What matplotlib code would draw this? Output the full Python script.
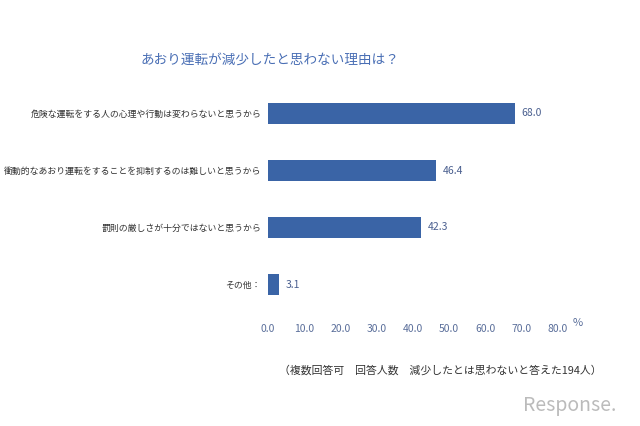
import matplotlib
matplotlib.use("Agg")
import matplotlib.pyplot as plt

plt.rcParams["font.family"] = "Noto Sans CJK JP"

categories = ["危険な運転をする人の心理や行動は変わらないと思うから",
              "衝動的なあおり運転をすることを抑制するのは難しいと思うから",
              "罰則の厳しさが十分ではないと思うから",
              "その他："]
values = [68.0, 46.4, 42.3, 3.1]
ticks = [0, 10, 20, 30, 40, 50, 60, 70, 80]

fig = plt.figure(figsize=(6.4, 4.26), dpi=100)
ax = fig.add_axes([268/640, 1-313/426, 290/640, 228/426])
pos = list(range(len(values)-1, -1, -1))
ax.barh(pos, values, height=0.36, color="#3A64A6")
for p, v in zip(pos, values):
    ax.text(v + 1.8, p, f"{v:.1f}", va="center", ha="left", fontsize=7.5, color="#4A5F8F")
ax.set_xlim(0, 80)
ax.set_ylim(-0.5, 3.5)
ax.set_yticks(pos)
ax.set_yticklabels(categories, fontsize=6.4, color="#333333")
ax.set_xticks(ticks)
ax.set_xticklabels([f"{t:.1f}" for t in ticks], fontsize=7.5, color="#5A6E9A")
ax.tick_params(length=0)
ax.tick_params(axis="x", pad=8)
ax.tick_params(axis="y", pad=5)
for s in ax.spines.values():
    s.set_visible(False)
fig.text(578/640, 1-323/426, "%", fontsize=8, color="#5A6E9A", ha="center", va="center")
fig.text(270/640, 1-60/426, "あおり運転が減少したと思わない理由は？", fontsize=9.8,
         color="#4A6FB5", ha="center", va="center")
fig.text(440/640, 1-370/426, "（複数回答可　回答人数　減少したとは思わないと答えた194人）",
         fontsize=7.8, color="#333333", ha="center", va="center")
fig.text(570/640, 1-405/426, "Response.", fontsize=14, color="#BBBBBB", style="italic",
         ha="center", va="center")
fig.savefig("out.png", dpi=100)
